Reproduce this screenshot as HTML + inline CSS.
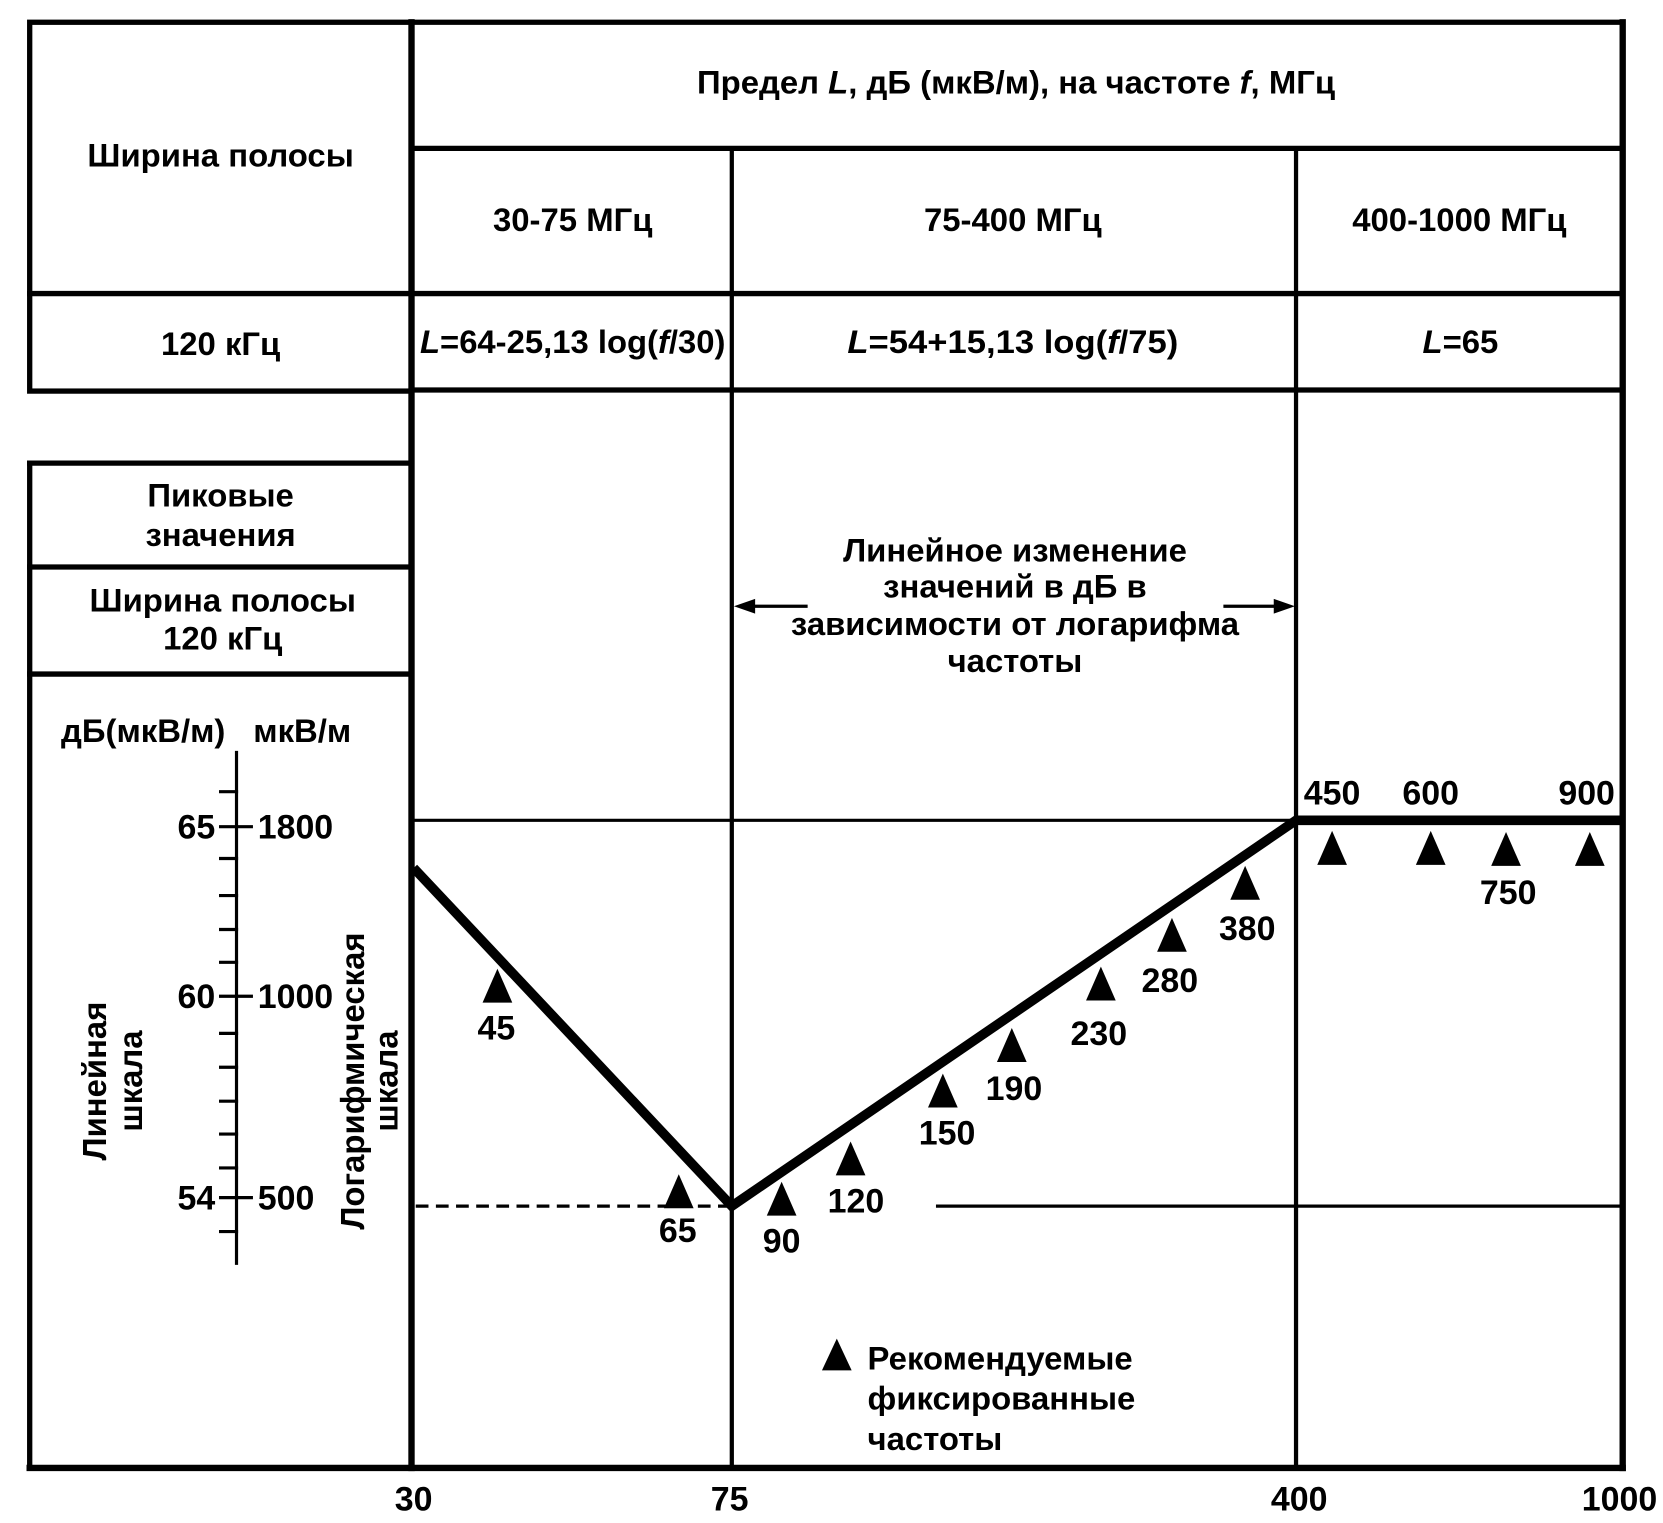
<!DOCTYPE html>
<html><head><meta charset="utf-8"><style>
html,body{margin:0;padding:0;background:#fff}
svg{display:block}
text{font-family:"Liberation Sans",Arial,sans-serif;font-weight:bold;fill:#000}
</style></head><body>
<svg width="1663" height="1523" viewBox="0 0 1568 1437" preserveAspectRatio="none" xmlns="http://www.w3.org/2000/svg">
<rect width="1568" height="1437" fill="#fff"/>
<g stroke="#000" fill="none" stroke-linecap="square">
<rect x="28" y="21" width="360" height="348" stroke-width="5"/>
<line x1="28" y1="277" x2="388" y2="277" stroke-width="5"/>
<line x1="388" y1="21" x2="1530" y2="21" stroke-width="5"/>
<line x1="388" y1="140" x2="1530" y2="140" stroke-width="5"/>
<line x1="388" y1="277" x2="1530" y2="277" stroke-width="5"/>
<line x1="388" y1="368" x2="1530" y2="368" stroke-width="5"/>
<line x1="690" y1="140" x2="690" y2="1385" stroke-width="4"/>
<line x1="1222" y1="140" x2="1222" y2="1385" stroke-width="4"/>
<line x1="388" y1="21" x2="388" y2="1385" stroke-width="6"/>
<line x1="1530" y1="21" x2="1530" y2="1385" stroke-width="6"/>
<line x1="28" y1="1385" x2="1530" y2="1385" stroke-width="6"/>
<line x1="28" y1="437" x2="388" y2="437" stroke-width="5"/>
<line x1="28" y1="437" x2="28" y2="1385" stroke-width="5"/>
<line x1="28" y1="535" x2="388" y2="535" stroke-width="5"/>
<line x1="28" y1="636" x2="388" y2="636" stroke-width="5"/>
<line x1="388" y1="774" x2="1530" y2="774" stroke-width="3"/>
<line x1="392" y1="1138" x2="690" y2="1138" stroke-width="3" stroke-dasharray="12,7" stroke-linecap="butt"/>
<line x1="884" y1="1138" x2="1530" y2="1138" stroke-width="3"/>
<polyline points="390,819 690,1138 1222,774 1530,774" stroke-width="9" stroke-linejoin="miter" stroke-linecap="butt"/>
<line x1="700" y1="572" x2="760" y2="572" stroke-width="3"/>
<line x1="1155" y1="572" x2="1212" y2="572" stroke-width="3"/>
<line x1="223" y1="710" x2="223" y2="1192" stroke-width="3"/>
<g stroke-width="3">
<line x1="208" y1="747" x2="223" y2="747"/>
<line x1="208" y1="780" x2="237" y2="780"/>
<line x1="208" y1="810" x2="223" y2="810"/>
<line x1="208" y1="845" x2="223" y2="845"/>
<line x1="208" y1="877" x2="223" y2="877"/>
<line x1="208" y1="908" x2="223" y2="908"/>
<line x1="208" y1="940" x2="237" y2="940"/>
<line x1="208" y1="975" x2="223" y2="975"/>
<line x1="208" y1="1007" x2="223" y2="1007"/>
<line x1="208" y1="1039" x2="223" y2="1039"/>
<line x1="208" y1="1070" x2="223" y2="1070"/>
<line x1="208" y1="1102" x2="223" y2="1102"/>
<line x1="208" y1="1130" x2="237" y2="1130"/>
<line x1="208" y1="1162" x2="223" y2="1162"/>
</g>
</g>
<polygon points="692,572 712,565 712,579" fill="#000"/>
<polygon points="1221,572 1201,565 1201,579" fill="#000"/>
<g fill="#000">
<polygon points="469,914 455,946 483,946"/>
<polygon points="640,1108 626,1140 654,1140"/>
<polygon points="737,1115 723,1147 751,1147"/>
<polygon points="802,1077 788,1109 816,1109"/>
<polygon points="889,1013 875,1045 903,1045"/>
<polygon points="954,970 940,1002 968,1002"/>
<polygon points="1038,912 1024,944 1052,944"/>
<polygon points="1105,866 1091,898 1119,898"/>
<polygon points="1174,817 1160,849 1188,849"/>
<polygon points="1256,784 1242,816 1270,816"/>
<polygon points="1349,784 1335,816 1363,816"/>
<polygon points="1420,785 1406,817 1434,817"/>
<polygon points="1499,785 1485,817 1513,817"/>
<polygon points="789,1263 775,1293 803,1293"/>
</g>
<g font-size="31" text-anchor="middle">
<text x="208" y="157">Ширина полосы</text>
<text x="208" y="335">120 кГц</text>
<text x="958" y="88">Предел <tspan font-style="italic">L</tspan>, дБ (мкВ/м), на частоте <tspan font-style="italic">f</tspan>, МГц</text>
<text x="540" y="218">30-75 МГц</text>
<text x="955" y="218">75-400 МГц</text>
<text x="1376" y="218">400-1000 МГц</text>
<text x="540" y="333" textLength="288" lengthAdjust="spacingAndGlyphs"><tspan font-style="italic">L</tspan>=64-25,13 log(<tspan font-style="italic">f</tspan>/30)</text>
<text x="955" y="333" textLength="312" lengthAdjust="spacingAndGlyphs"><tspan font-style="italic">L</tspan>=54+15,13 log(<tspan font-style="italic">f</tspan>/75)</text>
<text x="1377" y="333"><tspan font-style="italic">L</tspan>=65</text>
<text x="208" y="478">Пиковые</text>
<text x="208" y="515">значения</text>
<text x="210" y="577">Ширина полосы</text>
<text x="210" y="613">120 кГц</text>
<text x="957" y="530">Линейное  изменение</text>
<text x="957" y="564">значений в дБ в</text>
<text x="957" y="599">зависимости от логарифма</text>
<text x="957" y="634">частоты</text>
<text x="135" y="700">дБ(мкВ/м)</text>
<text x="285" y="700">мкВ/м</text>
</g>
<g font-size="32" text-anchor="middle">
<text x="468" y="981">45</text>
<text x="639" y="1172">65</text>
<text x="737" y="1182">90</text>
<text x="807" y="1144">120</text>
<text x="893" y="1080">150</text>
<text x="956" y="1038">190</text>
<text x="1036" y="986">230</text>
<text x="1103" y="936">280</text>
<text x="1176" y="887">380</text>
<text x="1256" y="759">450</text>
<text x="1349" y="759">600</text>
<text x="1496" y="759">900</text>
<text x="1422" y="853">750</text>
<text x="390" y="1425">30</text>
<text x="688" y="1425">75</text>
<text x="1225" y="1425">400</text>
<text x="1527" y="1425">1000</text>
</g>
<g font-size="32">
<text x="203" y="791" text-anchor="end">65</text>
<text x="203" y="951" text-anchor="end">60</text>
<text x="203" y="1141" text-anchor="end">54</text>
<text x="243" y="791">1800</text>
<text x="243" y="951">1000</text>
<text x="243" y="1141">500</text>
</g>
<g font-size="31">
<text x="818" y="1292">Рекомендуемые</text>
<text x="818" y="1330">фиксированные</text>
<text x="818" y="1368">частоты</text>
</g>
<g font-size="31" text-anchor="middle">
<text transform="translate(100,1020) rotate(-90)">Линейная</text>
<text transform="translate(134,1020) rotate(-90)">шкала</text>
<text transform="translate(343,1020) rotate(-90)">Логарифмическая</text>
<text transform="translate(375,1020) rotate(-90)">шкала</text>
</g>
</svg>
</body></html>
